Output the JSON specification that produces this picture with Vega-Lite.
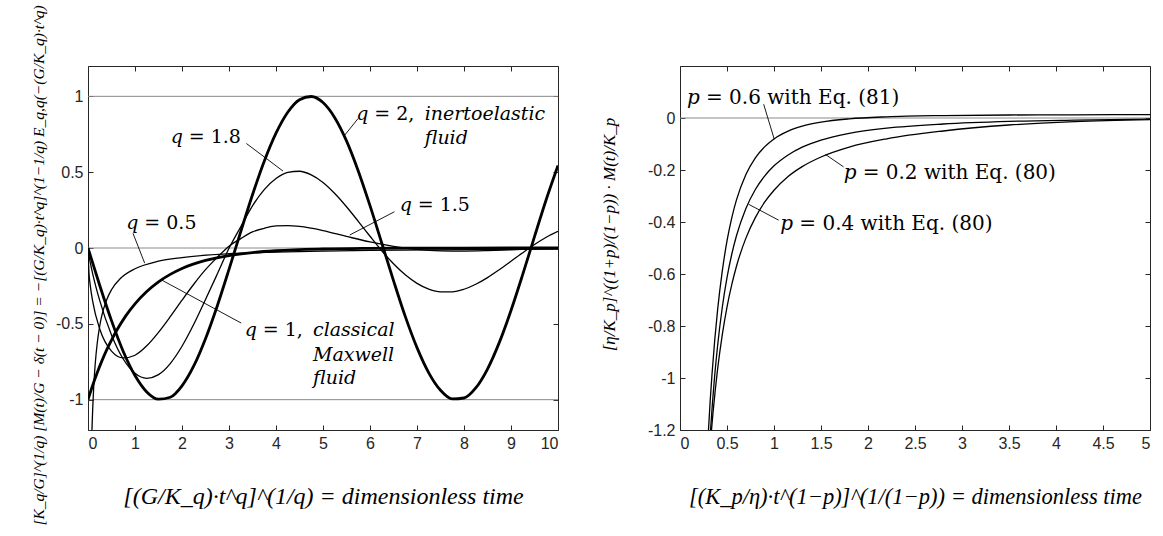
{
  "$schema": "https://vega.github.io/schema/vega-lite/v6.json",
  "padding": {"left": 30, "top": 4, "right": 5, "bottom": 5},
  "bounds": "flush",
  "spacing": 122,
  "config": {
    "view": {"stroke": "#262626", "strokeWidth": 1},
    "axis": {
      "domain": false, "grid": false,
      "tickColor": "#262626", "tickSize": -5, "tickWidth": 1,
      "labelFont": "Liberation Sans", "labelFontSize": 16, "labelColor": "#262626", "labelPadding": 10,
      "titleFont": "Liberation Serif", "titleFontStyle": "italic", "titleFontWeight": "normal", "titleColor": "#000000"
    },
    "text": {"font": "DejaVu Serif", "fontSize": 19, "color": "#000000"}
  },
  "datasets": {
    "leftCurves": [
      {"q":"0.5","t":0.0844,"v":-1.2},{"q":"0.5","t":0.09,"v":-1.146},{"q":"0.5","t":0.1,"v":-1.061},{"q":"0.5","t":0.12,"v":-0.925},{"q":"0.5","t":0.15,"v":-0.778},{"q":"0.5","t":0.2,"v":-0.618},{"q":"0.5","t":0.25,"v":-0.513},{"q":"0.5","t":0.3,"v":-0.438},{"q":"0.5","t":0.4,"v":-0.339},{"q":"0.5","t":0.5,"v":-0.275},{"q":"0.5","t":0.7,"v":-0.198},{"q":"0.5","t":1,"v":-0.137},{"q":"0.5","t":1.5,"v":-0.087},{"q":"0.5","t":2,"v":-0.063},{"q":"0.5","t":3,"v":-0.038},{"q":"0.5","t":4,"v":-0.027},{"q":"0.5","t":5,"v":-0.02},{"q":"0.5","t":6,"v":-0.016},{"q":"0.5","t":8,"v":-0.011},{"q":"0.5","t":10,"v":-0.008},
      {"q":"1","t":0,"v":-1},{"q":"1","t":0.1,"v":-0.905},{"q":"1","t":0.2,"v":-0.819},{"q":"1","t":0.3,"v":-0.741},{"q":"1","t":0.4,"v":-0.67},{"q":"1","t":0.5,"v":-0.607},{"q":"1","t":0.6,"v":-0.549},{"q":"1","t":0.8,"v":-0.449},{"q":"1","t":1,"v":-0.368},{"q":"1","t":1.25,"v":-0.287},{"q":"1","t":1.5,"v":-0.223},{"q":"1","t":1.75,"v":-0.174},{"q":"1","t":2,"v":-0.135},{"q":"1","t":2.5,"v":-0.082},{"q":"1","t":3,"v":-0.05},{"q":"1","t":3.5,"v":-0.03},{"q":"1","t":4,"v":-0.018},{"q":"1","t":5,"v":-0.0067},{"q":"1","t":6,"v":-0.0025},{"q":"1","t":7,"v":-0.0009},{"q":"1","t":8,"v":-0.0003},{"q":"1","t":10,"v":0},
      {"q":"1.5","t":0,"v":0},{"q":"1.5","t":0.02,"v":-0.16},{"q":"1.5","t":0.05,"v":-0.251},{"q":"1.5","t":0.1,"v":-0.352},{"q":"1.5","t":0.25,"v":-0.534},{"q":"1.5","t":0.5,"v":-0.68},{"q":"1.5","t":0.75,"v":-0.725},{"q":"1.5","t":1,"v":-0.707},{"q":"1.5","t":1.25,"v":-0.645},{"q":"1.5","t":1.5,"v":-0.556},{"q":"1.5","t":1.75,"v":-0.453},{"q":"1.5","t":2,"v":-0.344},{"q":"1.5","t":2.25,"v":-0.239},{"q":"1.5","t":2.5,"v":-0.143},{"q":"1.5","t":2.75,"v":-0.062},{"q":"1.5","t":3,"v":0.012},{"q":"1.5","t":3.25,"v":0.062},{"q":"1.5","t":3.5,"v":0.106},{"q":"1.5","t":3.75,"v":0.13},{"q":"1.5","t":4,"v":0.146},{"q":"1.5","t":4.25,"v":0.147},{"q":"1.5","t":4.5,"v":0.142},{"q":"1.5","t":5,"v":0.115},{"q":"1.5","t":5.5,"v":0.0765},{"q":"1.5","t":6,"v":0.0397},{"q":"1.5","t":6.5,"v":0.0103},{"q":"1.5","t":7,"v":-0.0089},{"q":"1.5","t":7.5,"v":-0.0183},{"q":"1.5","t":8,"v":-0.0201},{"q":"1.5","t":8.5,"v":-0.017},{"q":"1.5","t":9,"v":-0.0115},{"q":"1.5","t":9.5,"v":-0.0057},{"q":"1.5","t":10,"v":-0.0008},
      {"q":"1.8","t":0,"v":0},{"q":"1.8","t":0.02,"v":-0.047},{"q":"1.8","t":0.05,"v":-0.098},{"q":"1.8","t":0.1,"v":-0.17},{"q":"1.8","t":0.25,"v":-0.347},{"q":"1.8","t":0.5,"v":-0.573},{"q":"1.8","t":0.75,"v":-0.732},{"q":"1.8","t":1,"v":-0.826},{"q":"1.8","t":1.25,"v":-0.859},{"q":"1.8","t":1.5,"v":-0.835},{"q":"1.8","t":1.75,"v":-0.762},{"q":"1.8","t":2,"v":-0.648},{"q":"1.8","t":2.25,"v":-0.503},{"q":"1.8","t":2.5,"v":-0.34},{"q":"1.8","t":2.75,"v":-0.172},{"q":"1.8","t":3,"v":-0.002},{"q":"1.8","t":3.25,"v":0.14},{"q":"1.8","t":3.5,"v":0.278},{"q":"1.8","t":3.75,"v":0.385},{"q":"1.8","t":4,"v":0.458},{"q":"1.8","t":4.25,"v":0.499},{"q":"1.8","t":4.5,"v":0.506},{"q":"1.8","t":4.75,"v":0.482},{"q":"1.8","t":5,"v":0.432},{"q":"1.8","t":5.25,"v":0.359},{"q":"1.8","t":5.5,"v":0.272},{"q":"1.8","t":5.75,"v":0.176},{"q":"1.8","t":6,"v":0.0775},{"q":"1.8","t":6.25,"v":-0.018},{"q":"1.8","t":6.5,"v":-0.104},{"q":"1.8","t":6.75,"v":-0.177},{"q":"1.8","t":7,"v":-0.233},{"q":"1.8","t":7.25,"v":-0.271},{"q":"1.8","t":7.5,"v":-0.289},{"q":"1.8","t":7.75,"v":-0.289},{"q":"1.8","t":8,"v":-0.272},{"q":"1.8","t":8.25,"v":-0.239},{"q":"1.8","t":8.5,"v":-0.195},{"q":"1.8","t":8.75,"v":-0.143},{"q":"1.8","t":9,"v":-0.0875},{"q":"1.8","t":9.25,"v":-0.031},{"q":"1.8","t":9.5,"v":0.023},{"q":"1.8","t":9.75,"v":0.071},{"q":"1.8","t":10,"v":0.11},
      {"q":"2","t":0,"v":0},{"q":"2","t":0.25,"v":-0.247},{"q":"2","t":0.5,"v":-0.479},{"q":"2","t":0.75,"v":-0.682},{"q":"2","t":1,"v":-0.841},{"q":"2","t":1.25,"v":-0.949},{"q":"2","t":1.5,"v":-0.997},{"q":"2","t":1.75,"v":-0.984},{"q":"2","t":2,"v":-0.909},{"q":"2","t":2.25,"v":-0.778},{"q":"2","t":2.5,"v":-0.598},{"q":"2","t":2.75,"v":-0.382},{"q":"2","t":3,"v":-0.141},{"q":"2","t":3.25,"v":0.108},{"q":"2","t":3.5,"v":0.351},{"q":"2","t":3.75,"v":0.572},{"q":"2","t":4,"v":0.757},{"q":"2","t":4.25,"v":0.895},{"q":"2","t":4.5,"v":0.978},{"q":"2","t":4.75,"v":0.999},{"q":"2","t":5,"v":0.959},{"q":"2","t":5.25,"v":0.859},{"q":"2","t":5.5,"v":0.706},{"q":"2","t":5.75,"v":0.508},{"q":"2","t":6,"v":0.279},{"q":"2","t":6.25,"v":0.033},{"q":"2","t":6.5,"v":-0.215},{"q":"2","t":6.75,"v":-0.451},{"q":"2","t":7,"v":-0.657},{"q":"2","t":7.25,"v":-0.823},{"q":"2","t":7.5,"v":-0.938},{"q":"2","t":7.75,"v":-0.995},{"q":"2","t":8,"v":-0.989},{"q":"2","t":8.25,"v":-0.923},{"q":"2","t":8.5,"v":-0.798},{"q":"2","t":8.75,"v":-0.624},{"q":"2","t":9,"v":-0.412},{"q":"2","t":9.25,"v":-0.174},{"q":"2","t":9.5,"v":0.075},{"q":"2","t":9.75,"v":0.32},{"q":"2","t":10,"v":0.544}
    ],
    "leftLeaders": [
      {"x1":3.37,"y1":0.689,"x2":4.15,"y2":0.507},
      {"x1":0.957,"y1":0.097,"x2":1.206,"y2":-0.1},
      {"x1":1.56,"y1":-0.21,"x2":3.26,"y2":-0.495},
      {"x1":5.46,"y1":0.743,"x2":5.745,"y2":0.853},
      {"x1":6.52,"y1":0.239,"x2":5.57,"y2":0.086}
    ],
    "leftLabels": [
      {"x":1.76,"y":0.732,"sym":"q","rest":"= 1.8"},
      {"x":0.815,"y":0.162,"sym":"q","rest":"= 0.5"},
      {"x":6.632,"y":0.283,"sym":"q","rest":"= 1.5"},
      {"x":3.334,"y":-0.539,"sym":"q","rest":"= 1,"},
      {"x":5.709,"y":0.886,"sym":"q","rest":"= 2,"}
    ],
    "leftTextItalic": [
      {"x":4.787,"y":-0.539,"label":"classical"},
      {"x":4.787,"y":-0.704,"label":"Maxwell"},
      {"x":4.787,"y":-0.857,"label":"fluid"},
      {"x":7.164,"y":0.886,"label":"inertoelastic"},
      {"x":7.164,"y":0.722,"label":"fluid"}
    ],
    "rightCurves": [
      {"p":"0.6","x":0.303,"y":-1.2},{"p":"0.6","x":0.32,"y":-1.094},{"p":"0.6","x":0.34,"y":-0.988},{"p":"0.6","x":0.37,"y":-0.852},{"p":"0.6","x":0.4,"y":-0.738},{"p":"0.6","x":0.45,"y":-0.588},{"p":"0.6","x":0.5,"y":-0.473},{"p":"0.6","x":0.55,"y":-0.385},{"p":"0.6","x":0.6,"y":-0.316},{"p":"0.6","x":0.7,"y":-0.218},{"p":"0.6","x":0.8,"y":-0.154},{"p":"0.6","x":0.9,"y":-0.111},{"p":"0.6","x":1.0,"y":-0.0805},{"p":"0.6","x":1.15,"y":-0.0505},{"p":"0.6","x":1.3,"y":-0.0315},{"p":"0.6","x":1.5,"y":-0.0159},{"p":"0.6","x":1.8,"y":-0.0032},{"p":"0.6","x":2.2,"y":0.0047},{"p":"0.6","x":2.8,"y":0.0095},{"p":"0.6","x":3.5,"y":0.0115},{"p":"0.6","x":4.2,"y":0.0123},{"p":"0.6","x":5,"y":0.013},
      {"p":"0.4","x":0.325,"y":-1.2},{"p":"0.4","x":0.345,"y":-1.097},{"p":"0.4","x":0.37,"y":-0.987},{"p":"0.4","x":0.4,"y":-0.876},{"p":"0.4","x":0.45,"y":-0.728},{"p":"0.4","x":0.5,"y":-0.614},{"p":"0.4","x":0.55,"y":-0.525},{"p":"0.4","x":0.6,"y":-0.454},{"p":"0.4","x":0.7,"y":-0.349},{"p":"0.4","x":0.8,"y":-0.276},{"p":"0.4","x":0.9,"y":-0.2235},{"p":"0.4","x":1.0,"y":-0.184},{"p":"0.4","x":1.15,"y":-0.142},{"p":"0.4","x":1.3,"y":-0.112},{"p":"0.4","x":1.5,"y":-0.085},{"p":"0.4","x":1.8,"y":-0.059},{"p":"0.4","x":2.2,"y":-0.039},{"p":"0.4","x":2.8,"y":-0.023},{"p":"0.4","x":3.5,"y":-0.013},{"p":"0.4","x":4.2,"y":-0.008},{"p":"0.4","x":5,"y":-0.004},
      {"p":"0.2","x":0.335,"y":-1.2},{"p":"0.2","x":0.35,"y":-1.138},{"p":"0.2","x":0.375,"y":-1.047},{"p":"0.2","x":0.4,"y":-0.966},{"p":"0.2","x":0.45,"y":-0.833},{"p":"0.2","x":0.5,"y":-0.727},{"p":"0.2","x":0.55,"y":-0.642},{"p":"0.2","x":0.6,"y":-0.571},{"p":"0.2","x":0.7,"y":-0.463},{"p":"0.2","x":0.8,"y":-0.384},{"p":"0.2","x":0.9,"y":-0.324},{"p":"0.2","x":1.0,"y":-0.278},{"p":"0.2","x":1.15,"y":-0.225},{"p":"0.2","x":1.3,"y":-0.187},{"p":"0.2","x":1.5,"y":-0.15},{"p":"0.2","x":1.8,"y":-0.112},{"p":"0.2","x":2.2,"y":-0.08},{"p":"0.2","x":2.8,"y":-0.05},{"p":"0.2","x":3.5,"y":-0.027},{"p":"0.2","x":4.2,"y":-0.014},{"p":"0.2","x":5,"y":-0.006}
    ],
    "rightLeaders": [
      {"x1":0.89,"y1":0.053,"x2":1.003,"y2":-0.082},
      {"x1":1.547,"y1":-0.14,"x2":1.74,"y2":-0.188},
      {"x1":0.731,"y1":-0.332,"x2":1.05,"y2":-0.393}
    ],
    "rightLabels": [
      {"x":0.074,"y":0.077,"sym":"p","rest":"= 0.6 with Eq. (81)"},
      {"x":1.741,"y":-0.21,"sym":"p","rest":"= 0.2 with Eq. (80)"},
      {"x":1.067,"y":-0.409,"sym":"p","rest":"= 0.4 with Eq. (80)"}
    ]
  },
  "hconcat": [
    {
      "width": 470,
      "height": 364,
      "resolve": {"axis": {"x": "independent", "y": "independent"}},
      "layer": [
        {
          "data": {"values": [{"g": 1}, {"g": 0}, {"g": -1}]},
          "mark": {"type": "rule", "color": "#8a8a8a", "strokeWidth": 1},
          "encoding": {
            "y": {"field": "g", "type": "quantitative", "scale": {"domain": [-1.2, 1.2], "nice": false, "zero": false}, "axis": null}
          }
        },
        {
          "data": {"name": "leftCurves"},
          "transform": [{"filter": {"field": "q", "oneOf": ["0.5", "1.5", "1.8"]}}],
          "mark": {"type": "line", "color": "black", "interpolate": "monotone", "clip": true, "strokeWidth": 1.3},
          "encoding": {
            "x": {"field": "t", "type": "quantitative", "scale": {"domain": [0, 10], "nice": false, "zero": false},
              "axis": {"orient": "bottom", "values": [0,1,2,3,4,5,6,7,8,9,10], "labelExpr": "'' + datum.value",
                "title": "[(G/K_q)·t^q]^(1/q)  =  dimensionless time", "titleFontSize": 24, "titleY": 66, "titleBaseline": "middle"}},
            "y": {"field": "v", "type": "quantitative", "scale": {"domain": [-1.2, 1.2], "nice": false, "zero": false},
              "axis": {"orient": "left", "values": [-1,-0.5,0,0.5,1], "labelExpr": "'' + datum.value",
                "title": "[K_q/G]^(1/q) [M(t)/G − δ(t − 0)] = −[(G/K_q)·t^q]^(1−1/q) E_q,q(−(G/K_q)·t^q)",
                "titleFontSize": 15.5, "titleX": -50, "titleY": 199, "titleAngle": -90, "titleAlign": "center", "titleBaseline": "middle"}},
            "detail": {"field": "q", "type": "nominal"}
          }
        },
        {
          "data": {"name": "leftCurves"},
          "transform": [{"filter": {"field": "q", "oneOf": ["1", "2"]}}],
          "mark": {"type": "line", "color": "black", "interpolate": "monotone", "clip": true, "strokeWidth": 2.8},
          "encoding": {
            "x": {"field": "t", "type": "quantitative", "axis": null},
            "y": {"field": "v", "type": "quantitative", "axis": null},
            "detail": {"field": "q", "type": "nominal"}
          }
        },
        {
          "data": {"name": "leftLeaders"},
          "mark": {"type": "rule", "color": "black", "strokeWidth": 0.9},
          "encoding": {
            "x": {"field": "x1", "type": "quantitative", "axis": null},
            "y": {"field": "y1", "type": "quantitative", "axis": null},
            "x2": {"field": "x2"},
            "y2": {"field": "y2"}
          }
        },
        {
          "data": {"name": "leftLabels"},
          "mark": {"type": "text", "align": "left", "baseline": "middle", "fontStyle": "italic"},
          "encoding": {
            "x": {"field": "x", "type": "quantitative", "axis": null},
            "y": {"field": "y", "type": "quantitative", "axis": null},
            "text": {"field": "sym"}
          }
        },
        {
          "data": {"name": "leftLabels"},
          "mark": {"type": "text", "align": "left", "baseline": "middle", "dx": 18},
          "encoding": {
            "x": {"field": "x", "type": "quantitative", "axis": null},
            "y": {"field": "y", "type": "quantitative", "axis": null},
            "text": {"field": "rest"}
          }
        },
        {
          "data": {"name": "leftTextItalic"},
          "mark": {"type": "text", "align": "left", "baseline": "middle", "fontStyle": "italic"},
          "encoding": {
            "x": {"field": "x", "type": "quantitative", "axis": null},
            "y": {"field": "y", "type": "quantitative", "axis": null},
            "text": {"field": "label"}
          }
        },
        {
          "data": {"name": "leftCurves"},
          "mark": {"type": "point", "opacity": 0},
          "encoding": {
            "x": {"field": "t", "type": "quantitative", "axis": {"orient": "top", "labels": false, "title": null, "values": [0,1,2,3,4,5,6,7,8,9,10]}},
            "y": {"field": "v", "type": "quantitative", "axis": {"orient": "right", "labels": false, "title": null, "values": [-1,-0.5,0,0.5,1]}}
          }
        }
      ]
    },
    {
      "width": 470,
      "height": 364,
      "resolve": {"axis": {"x": "independent", "y": "independent"}},
      "layer": [
        {
          "data": {"values": [{"g": 0}]},
          "mark": {"type": "rule", "color": "#8a8a8a", "strokeWidth": 1},
          "encoding": {
            "y": {"field": "g", "type": "quantitative", "scale": {"domain": [-1.2, 0.2], "nice": false, "zero": false}, "axis": null}
          }
        },
        {
          "data": {"name": "rightCurves"},
          "mark": {"type": "line", "color": "black", "interpolate": "monotone", "clip": true, "strokeWidth": 1.3},
          "encoding": {
            "x": {"field": "x", "type": "quantitative", "scale": {"domain": [0, 5], "nice": false, "zero": false},
              "axis": {"orient": "bottom", "values": [0,0.5,1,1.5,2,2.5,3,3.5,4,4.5,5], "labelExpr": "'' + datum.value",
                "title": "[(K_p/η)·t^(1−p)]^(1/(1−p))  =  dimensionless time", "titleFontSize": 22.5, "titleY": 66, "titleBaseline": "middle"}},
            "y": {"field": "y", "type": "quantitative", "scale": {"domain": [-1.2, 0.2], "nice": false, "zero": false},
              "axis": {"orient": "left", "values": [-1.2,-1,-0.8,-0.6,-0.4,-0.2,0], "labelExpr": "'' + datum.value",
                "title": "[η/K_p]^((1+p)/(1−p)) · M(t)/K_p",
                "titleFontSize": 17, "titleX": -71, "titleY": 168, "titleAngle": -90, "titleAlign": "center", "titleBaseline": "middle"}},
            "detail": {"field": "p", "type": "nominal"}
          }
        },
        {
          "data": {"name": "rightLeaders"},
          "mark": {"type": "rule", "color": "black", "strokeWidth": 0.9},
          "encoding": {
            "x": {"field": "x1", "type": "quantitative", "axis": null},
            "y": {"field": "y1", "type": "quantitative", "axis": null},
            "x2": {"field": "x2"},
            "y2": {"field": "y2"}
          }
        },
        {
          "data": {"name": "rightLabels"},
          "mark": {"type": "text", "align": "left", "baseline": "middle", "fontSize": 20, "fontStyle": "italic"},
          "encoding": {
            "x": {"field": "x", "type": "quantitative", "axis": null},
            "y": {"field": "y", "type": "quantitative", "axis": null},
            "text": {"field": "sym"}
          }
        },
        {
          "data": {"name": "rightLabels"},
          "mark": {"type": "text", "align": "left", "baseline": "middle", "fontSize": 20, "dx": 19},
          "encoding": {
            "x": {"field": "x", "type": "quantitative", "axis": null},
            "y": {"field": "y", "type": "quantitative", "axis": null},
            "text": {"field": "rest"}
          }
        },
        {
          "data": {"name": "rightCurves"},
          "mark": {"type": "point", "opacity": 0},
          "encoding": {
            "x": {"field": "x", "type": "quantitative", "axis": {"orient": "top", "labels": false, "title": null, "values": [0,0.5,1,1.5,2,2.5,3,3.5,4,4.5,5]}},
            "y": {"field": "y", "type": "quantitative", "axis": {"orient": "right", "labels": false, "title": null, "values": [-1.2,-1,-0.8,-0.6,-0.4,-0.2,0]}}
          }
        }
      ]
    }
  ]
}
